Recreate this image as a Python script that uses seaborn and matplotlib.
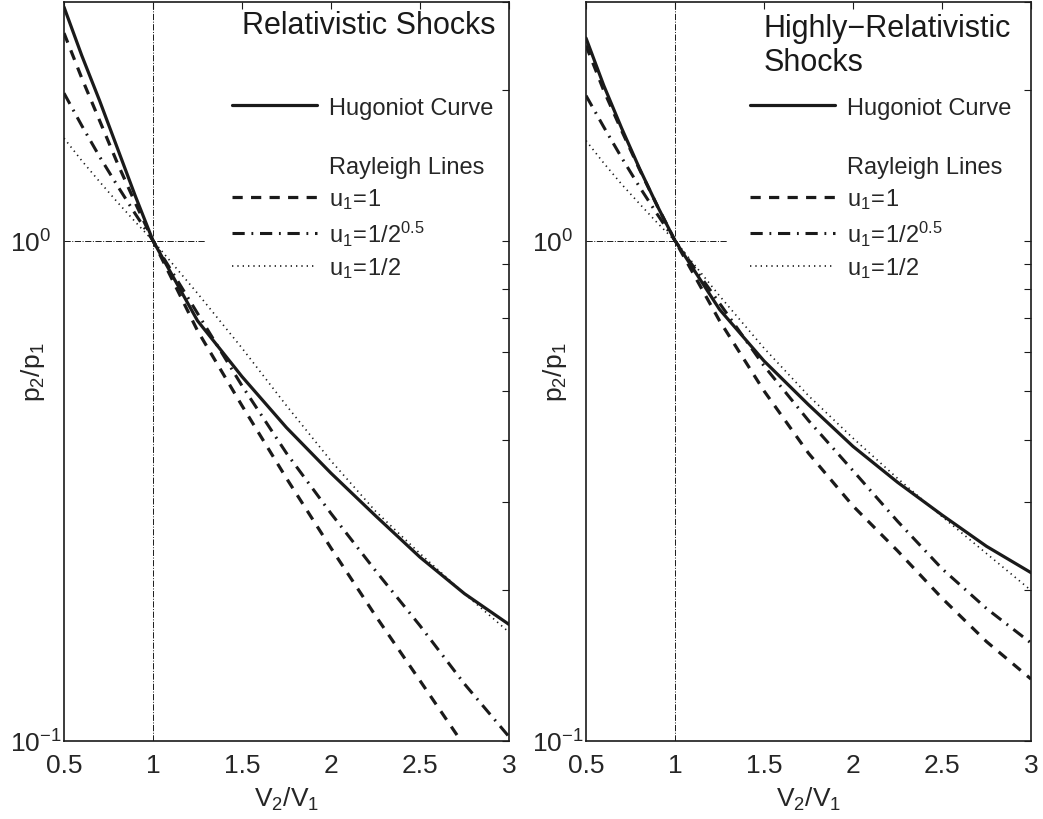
import matplotlib
matplotlib.use("Agg")
import matplotlib.pyplot as plt
from matplotlib.lines import Line2D
from matplotlib import ticker
import seaborn as sns

# ---------------- data ----------------
v_ratio = [0.5, 0.6, 0.7, 0.8, 0.9, 1.0, 1.25, 1.5, 1.75, 2.0, 2.25, 2.5, 2.75, 3.0]

# Relativistic shocks (left panel)
rel_hugoniot = [2.931, 2.344, 1.905, 1.531, 1.230, 1.0, 0.692, 0.535, 0.423, 0.343, 0.282, 0.233, 0.197, 0.171]
rel_u1_1     = [2.600, 2.113, 1.738, 1.429, 1.191, 1.0, 0.661, 0.468, 0.335, 0.243, 0.178, 0.132, 0.0977, 0.0724]
rel_u1_rt2   = [1.972, 1.698, 1.472, 1.288, 1.132, 1.0, 0.716, 0.513, 0.376, 0.285, 0.219, 0.170, 0.130, 0.102]
rel_u1_half  = [1.603, 1.445, 1.312, 1.194, 1.091, 1.0, 0.785, 0.610, 0.468, 0.363, 0.288, 0.237, 0.197, 0.165]

# Highly-relativistic shocks (right panel)
hrel_hugoniot = [2.541, 2.042, 1.679, 1.396, 1.175, 1.0, 0.729, 0.575, 0.470, 0.388, 0.329, 0.283, 0.245, 0.217]
hrel_u1_1     = [2.455, 1.995, 1.660, 1.390, 1.175, 1.0, 0.692, 0.501, 0.376, 0.295, 0.240, 0.193, 0.158, 0.133]
hrel_u1_rt2   = [1.950, 1.687, 1.466, 1.282, 1.130, 1.0, 0.750, 0.562, 0.437, 0.347, 0.275, 0.221, 0.184, 0.157]
hrel_u1_half  = [1.585, 1.429, 1.297, 1.186, 1.086, 1.0, 0.776, 0.610, 0.490, 0.403, 0.335, 0.281, 0.237, 0.200]

panel_titles = ["Relativistic Shocks", "Highly\u2212Relativistic\nShocks"]
legend_labels = ["Hugoniot Curve", " ", "Rayleigh Lines",
                 r"$\mathregular{u_1\!=\!1}$",
                 r"$\mathregular{u_1\!=\!1/2^{0.5}}$",
                 r"$\mathregular{u_1\!=\!1/2}$"]
xtick_vals = [0.5, 1.0, 1.5, 2.0, 2.5, 3.0]
xtick_labels = ["0.5", "1", "1.5", "2", "2.5", "3"]
ytick_vals = [0.1, 1.0]
ytick_labels = [r"$\mathregular{10^{-1}}$", r"$\mathregular{10^{0}}$"]

# ---------------- style ----------------
sns.set_theme(style="white")
plt.rcParams["font.family"] = ["Liberation Sans", "DejaVu Sans"]
plt.rcParams["mathtext.fontset"] = "custom"
plt.rcParams["mathtext.rm"] = "Liberation Sans"
plt.rcParams["mathtext.it"] = "Liberation Sans"
plt.rcParams["mathtext.default"] = "regular"
plt.rcParams["axes.unicode_minus"] = True

W, H = 1043, 820
fig = plt.figure(figsize=(W / 100, H / 100), dpi=100)
fig.patch.set_facecolor("white")

ax_w = 445 / W
ax_b = 1 - 742 / H
ax_h = 739 / H
axes = [fig.add_axes([64 / W, ax_b, ax_w, ax_h]),
        fig.add_axes([586 / W, ax_b, ax_w, ax_h])]

panels = [
    (rel_hugoniot, rel_u1_1, rel_u1_rt2, rel_u1_half),
    (hrel_hugoniot, hrel_u1_1, hrel_u1_rt2, hrel_u1_half),
]
title_y = [2.7, 2.46]
legend_x = [0.378, 0.369]

DASH = (0, (3.2, 2.6))
DASHDOT = (0, (4.0, 2.2, 0.6, 2.2))
DOT = (0, (0.8, 2.4))

for k, (ax, series) in enumerate(zip(axes, panels)):
    hug, d1, d2, d3 = series
    ax.set_yscale("log")
    # reference lines
    ax.axvline(1.0, color="k", lw=0.7, ls="-.", zorder=1)
    ax.axhline(1.0, xmin=0, xmax=0.316, color="k", lw=0.7, ls="-.", zorder=1)

    sns.lineplot(x=v_ratio, y=hug, ax=ax, color="k", lw=2.3, ls="-",
                 estimator=None, sort=False, zorder=4)
    sns.lineplot(x=v_ratio, y=d1, ax=ax, color="k", lw=2.3, ls=DASH,
                 estimator=None, sort=False, zorder=3)
    sns.lineplot(x=v_ratio, y=d2, ax=ax, color="k", lw=2.2, ls=DASHDOT,
                 estimator=None, sort=False, zorder=3)
    sns.lineplot(x=v_ratio, y=d3, ax=ax, color="k", lw=1.2, ls=DOT,
                 estimator=None, sort=False, zorder=3)

    ax.set_xlim(0.5, 3.0)
    ax.set_ylim(0.1, 3.0)

    ax.xaxis.set_major_locator(ticker.FixedLocator(xtick_vals))
    ax.xaxis.set_major_formatter(ticker.FixedFormatter(xtick_labels))
    ax.yaxis.set_major_locator(ticker.FixedLocator(ytick_vals))
    ax.yaxis.set_major_formatter(ticker.FixedFormatter(ytick_labels))
    ax.yaxis.set_minor_locator(ticker.LogLocator(base=10, subs=range(2, 10)))
    ax.yaxis.set_minor_formatter(ticker.NullFormatter())

    ax.tick_params(axis="both", which="both", direction="in", top=True, right=True,
                   color="k", width=0.8, length=5)
    ax.tick_params(axis="x", which="major", labelsize=19, pad=9)
    ax.tick_params(axis="y", which="major", labelsize=19, pad=39)
    for lbl in ax.get_yticklabels():
        lbl.set_horizontalalignment("left")
    for s in ax.spines.values():
        s.set_color("k")
        s.set_linewidth(1.2)

    ax.set_xlabel(r"$\mathregular{V_2/V_1}$", fontsize=19, labelpad=5)
    ax.set_ylabel(r"$\mathregular{p_2/p_1}$", fontsize=19)
    ax.yaxis.set_label_coords(-0.038, 0.5)

    ax.text(1.5, title_y[k], panel_titles[k], fontsize=22, ha="left", va="center",
            color="k", linespacing=1.2)

    handles = [
        Line2D([], [], color="k", lw=2.3, ls="-"),
        Line2D([], [], color="none"),
        Line2D([], [], color="none"),
        Line2D([], [], color="k", lw=2.3, ls=DASH),
        Line2D([], [], color="k", lw=2.2, ls=DASHDOT),
        Line2D([], [], color="k", lw=1.2, ls=DOT),
    ]
    ax.legend(handles, legend_labels, loc="upper left",
              bbox_to_anchor=(legend_x[k], 0.872), frameon=False, fontsize=17,
              borderpad=0, handlelength=3.6, handletextpad=0.5, labelspacing=0.33,
              borderaxespad=0)

fig.savefig("out.png", dpi=100, facecolor="white")
